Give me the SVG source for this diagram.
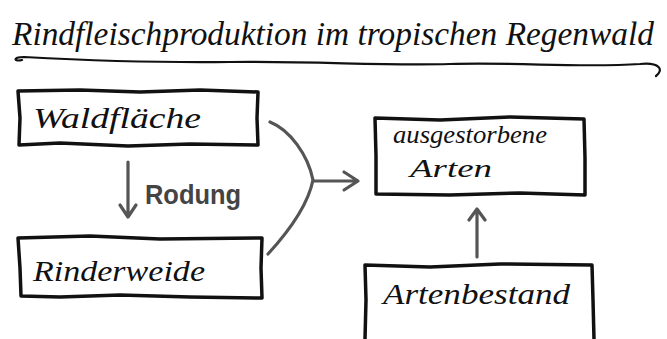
<svg xmlns="http://www.w3.org/2000/svg" width="667" height="339" viewBox="0 0 667 339">
<style>
.box{fill:none;stroke:#111;stroke-width:3.5;stroke-linejoin:round;stroke-linecap:round}
.hand{font-family:"Liberation Serif",serif;font-style:italic;fill:#111}
.conn{fill:none;stroke:#555;stroke-width:3.2;stroke-linecap:round;stroke-linejoin:round}
</style>
<rect width="667" height="339" fill="#fff"/>
<g id="title">
<text class="hand" x="12" y="45" font-size="33" textLength="642" lengthAdjust="spacingAndGlyphs">Rindfleischproduktion im tropischen Regenwald</text>
<path d="M22,60 C14,62 12,57 24,57 C80,60 150,63 230,62 C320,61 380,66 450,64 C520,62 580,68 640,64 C660,62 664,70 656,76" fill="none" stroke="#111" stroke-width="2.2" stroke-linecap="round"/>
</g>
<g id="waldflaeche">
<path class="box" d="M18,91 L80,90 L140,92 L200,90 L258,92 L257,118 L258,145 L190,144 L128,146 L60,143 L19,145 L20,118 Z"/>
<text class="hand" x="33" y="128" font-size="30" textLength="168" lengthAdjust="spacingAndGlyphs">Waldfläche</text>
</g>
<g id="rinderweide">
<path class="box" d="M18,238 L90,236 L160,239 L262,238 L261,268 L262,298 L190,297 L120,295 L60,297 L21,296 L20,268 Z"/>
<text class="hand" x="33" y="281" font-size="30" textLength="172" lengthAdjust="spacingAndGlyphs">Rinderweide</text>
</g>
<g id="ausgestorbene">
<path class="box" d="M375,118 L440,120 L510,117 L584,119 L585,158 L585,195 L520,193 L450,195 L376,194 L376,156 Z"/>
<text class="hand" x="393" y="143" font-size="25" textLength="154" lengthAdjust="spacingAndGlyphs">ausgestorbene</text>
<text class="hand" x="410" y="177" font-size="25" textLength="82" lengthAdjust="spacingAndGlyphs">Arten</text>
</g>
<g id="artenbestand">
<path class="box" d="M365,339 L366,300 L365,265 L430,267 L500,264 L592,265 L593,300 L594,339"/>
<text class="hand" x="383" y="304" font-size="30" textLength="187" lengthAdjust="spacingAndGlyphs">Artenbestand</text>
</g>
<g id="connectors">
<path class="conn" d="M128,162 L128,216 M120,205 L128,217 L136,205"/>
<text x="145" y="204" font-family="Liberation Sans, sans-serif" font-weight="bold" font-size="28" fill="#444" textLength="96" lengthAdjust="spacingAndGlyphs">Rodung</text>
<path class="conn" d="M270,122 C290,130 308,155 313,180 C308,205 290,230 268,254"/>
<path class="conn" d="M313,181 L358,181 M344,172 L358,181 L344,190"/>
<path class="conn" d="M477,257 L477,210 M469,220 L477,209 L485,220"/>
</g>
</svg>
